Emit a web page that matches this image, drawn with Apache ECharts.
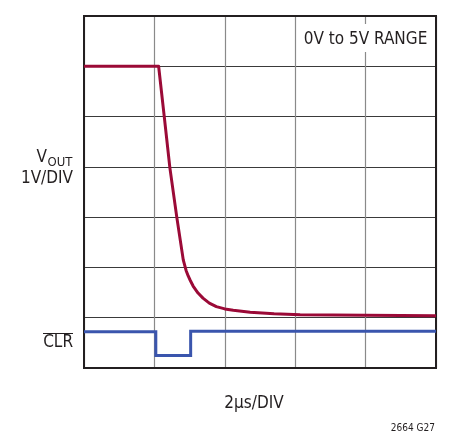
<!DOCTYPE html>
<html>
<head>
<meta charset="utf-8">
<script src="https://cdn.jsdelivr.net/npm/echarts@6/dist/echarts.min.js"></script>
<style>
  html, body { margin: 0; padding: 0; background: #fff; }
  #main { width: 459px; height: 436px; }
</style>
</head>
<body>
<div id="main"></div>
<script>
// time in divisions (2us/DIV), voltage in divisions (1V/DIV)
const voutX = [0, 1.06, 1.14, 1.22, 1.32, 1.41, 1.45, 1.48, 1.51, 1.55, 1.62, 1.69, 1.78, 1.88, 2.0, 2.12, 2.36, 2.7, 3.07, 4.0, 5.0];
const voutY = [6.0, 6.0, 5.0, 3.98, 2.98, 2.15, 1.94, 1.83, 1.74, 1.63, 1.49, 1.39, 1.29, 1.22, 1.175, 1.15, 1.11, 1.08, 1.06, 1.05, 1.04];
const clrX = [0, 1.02, 1.02, 1.515, 1.515, 5.0];
const clrY = [0.72, 0.72, 0.25, 0.25, 0.73, 0.73];

const FONT = '"Liberation Sans Narrow", "DejaVu Sans Condensed", "Liberation Sans", sans-serif';
const TXT = '#231f20';

const myChart = echarts.init(document.getElementById('main'));

function label(text, x, y, size, align) {
  return { type: 'text', x: x, y: y, z: 11, style: { text: text, font: size + 'px ' + FONT, fill: TXT, align: align, verticalAlign: 'middle' } };
}

const option = {
  backgroundColor: '#fff',
  animation: false,
  grid: {
    left: 84, top: 16, width: 352, height: 352,
    show: true, borderColor: '#231f20', borderWidth: 2, backgroundColor: 'transparent', z: 3
  },
  xAxis: {
    type: 'value', min: 0, max: 5, interval: 1,
    axisLine: { show: false }, axisTick: { show: false }, axisLabel: { show: false },
    splitLine: { show: true, lineStyle: { color: '#8a8a8a', width: 1.2 } }
  },
  yAxis: {
    type: 'value', min: 0, max: 7, interval: 1,
    axisLine: { show: false }, axisTick: { show: false }, axisLabel: { show: false },
    splitLine: { show: true, lineStyle: { color: '#3a3a3a', width: 1.2 } }
  },
  series: [
    {
      name: 'VOUT', type: 'line', symbol: 'none', z: 5,
      lineStyle: { color: '#9b0a37', width: 3, join: 'round' },
      data: voutX.map((x, i) => [x, voutY[i]])
    },
    {
      name: 'CLR', type: 'line', symbol: 'none', z: 5,
      lineStyle: { color: '#3a55ad', width: 3, join: 'miter' },
      data: clrX.map((x, i) => [x, clrY[i]])
    }
  ],
  graphic: [
    // range label box covering the grid line
    { type: 'rect', z: 10, shape: { x: 300, y: 24, width: 131, height: 28 }, style: { fill: '#fff' } },
    label('0V to 5V RANGE', 365.5, 40, 17, 'center'),
    label('V', 47, 157.5, 17, 'right'),
    label('OUT', 47.5, 162.5, 13, 'left'),
    label('1V/DIV', 73, 178.5, 17, 'right'),
    label('CLR', 73, 343, 17, 'right'),
    { type: 'line', z: 11, shape: { x1: 43, y1: 333.5, x2: 73, y2: 333.5 }, style: { stroke: TXT, lineWidth: 1 } },
    label('2μs/DIV', 254, 404, 17, 'center'),
    label('2664 G27', 435, 428.5, 10, 'right')
  ]
};

myChart.setOption(option);
</script>
</body>
</html>
